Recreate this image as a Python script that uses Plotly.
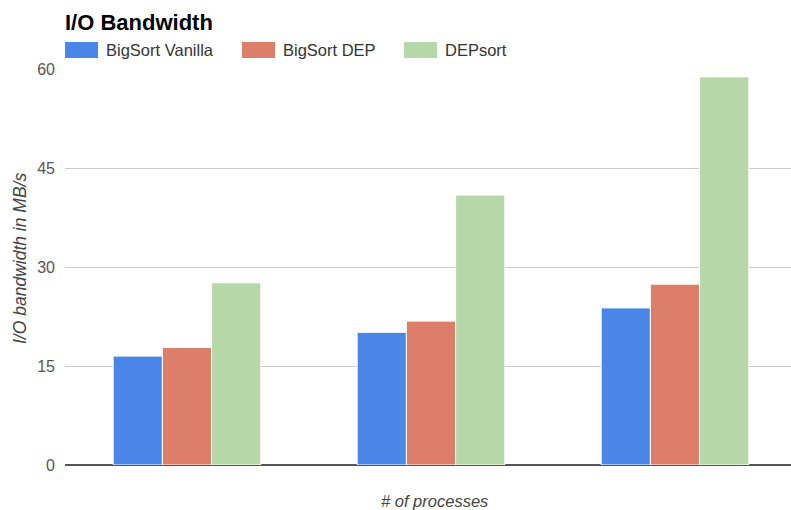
import plotly.graph_objects as go

categories = ["A", "B", "C"]
series_names = ["BigSort Vanilla", "BigSort DEP", "DEPsort"]
bigsort_vanilla = [16.5, 20.1, 23.8]
bigsort_dep = [17.8, 21.8, 27.4]
depsort = [27.6, 40.9, 58.8]
y_ticks = [0, 15, 30, 45, 60]
colors = ["#4a86e8", "#dd7e6b", "#b6d7a8"]

W, H = 791, 510
L, R, T, B = 65, 0, 69, 45
PW, PH = W - L - R, H - T - B


def px(x):
    return (x - L) / PW


def py(y):
    return (H - B - y) / PH


FONT = "Arial, 'Liberation Sans', sans-serif"

fig = go.Figure()
for name, vals, col in zip(series_names, [bigsort_vanilla, bigsort_dep, depsort], colors):
    fig.add_trace(go.Bar(x=categories, y=vals, name=name, marker=dict(color=col, line=dict(color="white", width=1)),
                         showlegend=False))

# custom legend
legend_x = [65, 242, 404]
shapes = []
annotations = []
for name, col, lx in zip(series_names, colors, legend_x):
    shapes.append(dict(type="rect", xref="paper", yref="paper", x0=px(lx), x1=px(lx + 33),
                       y0=py(58), y1=py(42), fillcolor=col, line=dict(width=0)))
    annotations.append(dict(text=name, xref="paper", yref="paper", x=px(lx + 39), y=py(50),
                            xanchor="left", yanchor="middle", showarrow=False,
                            font=dict(family=FONT, size=16.5, color="#333333")))

annotations.append(dict(text="I/O bandwidth in MB/s", xref="paper", yref="paper", x=px(20), y=py(259),
                        textangle=-90, xanchor="center", yanchor="middle", showarrow=False,
                        font=dict(family=FONT, size=17.5, color="#444444", style="italic")))
annotations.append(dict(text="# of processes", xref="paper", yref="paper", x=px(434), y=py(501),
                        xanchor="center", yanchor="middle", showarrow=False,
                        font=dict(family=FONT, size=16.5, color="#444444", style="italic")))

fig.update_layout(
    width=W, height=H,
    margin=dict(l=L, r=R, t=T, b=B),
    paper_bgcolor="white", plot_bgcolor="white",
    title=dict(text="<b>I/O Bandwidth</b>", x=65 / W, xanchor="left", y=1 - 22 / H, yanchor="middle",
               font=dict(family=FONT, size=22, color="#000000")),
    barmode="group", bargap=0.395, bargroupgap=0,
    shapes=shapes, annotations=annotations,
    xaxis=dict(range=[-0.5, -0.5 + PW / 244.0], showticklabels=False, showgrid=False, zeroline=False,
               showline=False, ticks=""),
    yaxis=dict(range=[0, 60], tickvals=y_ticks, showgrid=True, gridcolor="#cccccc", gridwidth=1,
               zeroline=True, zerolinecolor="#555555", zerolinewidth=2, showline=False,
               ticklabelstandoff=9,
               tickfont=dict(family=FONT, size=16, color="#555555")),
)

fig.write_html("out.html")
